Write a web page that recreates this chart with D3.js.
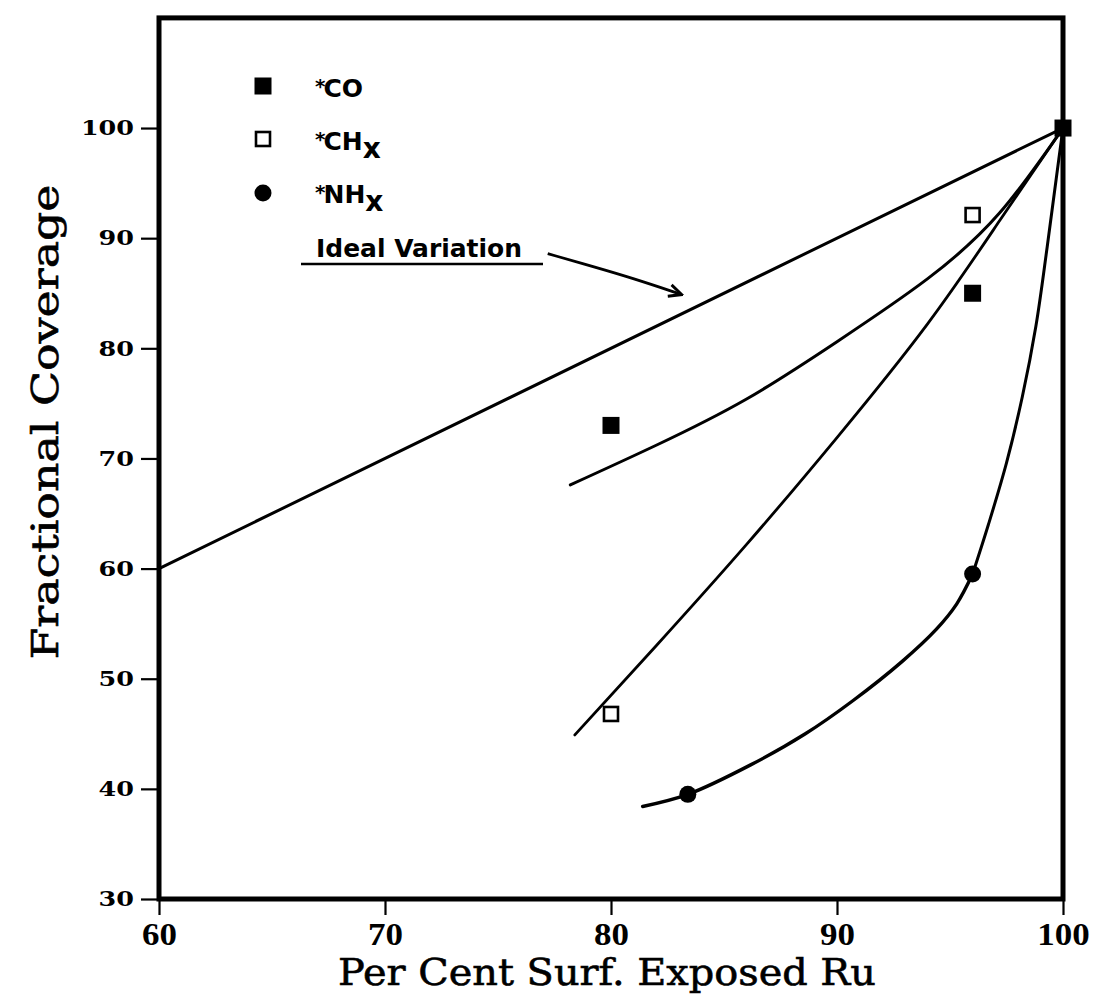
<!DOCTYPE html>
<html>
<head>
<meta charset="utf-8">
<script src="https://cdn.jsdelivr.net/npm/d3@7"></script>
<style>
  html, body { margin: 0; padding: 0; background: #fff; }
  svg { display: block; }
</style>
</head>
<body>
<svg id="chart" width="1098" height="1000"></svg>
<script>
// Axis ticks
const xTicks = [60, 70, 80, 90, 100];
const yTicks = [30, 40, 50, 60, 70, 80, 90, 100];

// Measured adsorbate coverages: [per cent surface Ru exposed, fractional coverage]
const coPoints = [[80, 73], [96, 85], [100, 100]];
const chPoints = [[80, 46.8], [96, 92.1]];
const nhPoints = [[83.4, 39.5], [96, 59.5]];

// Ideal variation (coverage proportional to exposed Ru)
const idealLine = [[60, 60], [100, 100]];

// Fitted trend curves
const fitUpper = [[78.2, 67.6], [82, 71.2], [86, 75.4], [90, 80.6], [94, 86.3], [97.2, 92.3], [100, 100]];
const fitMiddle = [[78.4, 44.9], [82, 53.0], [86, 62.2], [90, 71.9], [94, 82.2], [97.2, 91.6], [100, 100]];
const fitLowerA = [[81.4, 38.4], [83.4, 39.5], [86.2, 42.2], [88.6, 45.0], [90.7, 48.0], [92.9, 51.6],
                   [94.4, 54.5], [95.3, 56.8], [96.0, 59.5]];
const fitLowerB = [[96.0, 59.5], [96.7, 64.0], [97.5, 69.6], [98.2, 75.6], [98.8, 82.0], [99.3, 89.2],
                   [99.7, 95.4], [100, 100]];

// Pointer from the "Ideal Variation" label to the ideal line
const pointerPath = [[77.2, 88.6], [79.4, 87.3], [80.9, 86.4], [83.1, 84.9]];

const svg = d3.select("#chart");
svg.append("rect").attr("width", 1098).attr("height", 1000).attr("fill", "#fff");

const x = d3.scaleLinear().domain([60, 100]).range([159, 1063]);
const y = d3.scaleLinear().domain([30, 110]).range([899, 17.9]);

const line = d3.line().x(d => x(d[0])).y(d => y(d[1]));
const smooth = d3.line().x(d => x(d[0])).y(d => y(d[1])).curve(d3.curveCatmullRom.alpha(0.5));
const natural = d3.line().x(d => x(d[0])).y(d => y(d[1])).curve(d3.curveNatural);

// Y axis
const yAxis = svg.append("g")
  .attr("transform", `translate(${x(60)},0)`)
  .call(d3.axisLeft(y).tickValues(yTicks).tickSize(18).tickPadding(7));
yAxis.select(".domain").remove();
yAxis.selectAll(".tick line").attr("stroke", "#000").attr("stroke-width", 2.2);
yAxis.selectAll(".tick text")
  .attr("fill", "#000")
  .style("font-family", "'DejaVu Serif', serif")
  .style("font-weight", "bold")
  .style("font-size", "21px")
  .attr("textLength", d => String(d).length * 17.7)
  .attr("lengthAdjust", "spacingAndGlyphs");

// X axis
const xAxis = svg.append("g")
  .attr("transform", `translate(0,${y(30)})`)
  .call(d3.axisBottom(x).tickValues(xTicks).tickSize(16).tickPadding(8));
xAxis.select(".domain").remove();
xAxis.selectAll(".tick line").attr("stroke", "#000").attr("stroke-width", 2.2);
xAxis.selectAll(".tick text")
  .attr("fill", "#000")
  .style("font-family", "'Liberation Serif', serif")
  .style("font-weight", "bold")
  .style("font-size", "31px")
  .attr("textLength", d => String(d).length * 17.5)
  .attr("lengthAdjust", "spacingAndGlyphs");

// Plot frame
svg.append("rect")
  .attr("x", x(60)).attr("y", y(110))
  .attr("width", x(100) - x(60)).attr("height", y(30) - y(110))
  .attr("fill", "none").attr("stroke", "#000").attr("stroke-width", 5);

// Axis titles
svg.append("text")
  .attr("x", 607).attr("y", 985)
  .attr("text-anchor", "middle")
  .attr("textLength", 538).attr("lengthAdjust", "spacingAndGlyphs")
  .style("font-family", "'DejaVu Serif', serif")
  .style("font-size", "38px")
  .style("stroke", "#000").style("stroke-width", 0.6)
  .text("Per Cent Surf. Exposed Ru");

svg.append("text")
  .attr("transform", "translate(58,422) rotate(-90)")
  .attr("text-anchor", "middle")
  .attr("textLength", 475).attr("lengthAdjust", "spacingAndGlyphs")
  .style("font-family", "'DejaVu Serif', serif")
  .style("font-size", "38px")
  .style("stroke", "#000").style("stroke-width", 0.6)
  .text("Fractional Coverage");

// Lines
const lines = svg.append("g").attr("fill", "none").attr("stroke", "#000")
  .attr("stroke-linecap", "round").attr("stroke-linejoin", "round");
lines.append("path").attr("d", line(idealLine)).attr("stroke-width", 3);
lines.append("path").attr("d", natural(fitUpper)).attr("stroke-width", 3);
lines.append("path").attr("d", natural(fitMiddle)).attr("stroke-width", 2.8);
lines.append("path").attr("d", smooth(fitLowerA)).attr("stroke-width", 3.4);
lines.append("path").attr("d", smooth(fitLowerB)).attr("stroke-width", 3);

// Markers
const size = 17;
svg.append("g").selectAll("rect").data(coPoints).join("rect")
  .attr("x", d => x(d[0]) - size / 2).attr("y", d => y(d[1]) - size / 2)
  .attr("width", size).attr("height", size).attr("fill", "#000");
svg.append("g").selectAll("rect").data(chPoints).join("rect")
  .attr("x", d => x(d[0]) - 7).attr("y", d => y(d[1]) - 7)
  .attr("width", 14).attr("height", 14)
  .attr("fill", "#fff").attr("stroke", "#000").attr("stroke-width", 2.6);
svg.append("g").selectAll("circle").data(nhPoints).join("circle")
  .attr("cx", d => x(d[0])).attr("cy", d => y(d[1])).attr("r", 8.5).attr("fill", "#000");

// Legend
const legendFont = "'DejaVu Sans', sans-serif";
const lg = svg.append("g");
lg.append("rect").attr("x", 263 - 8.5).attr("y", 86 - 8.5).attr("width", 17).attr("height", 17).attr("fill", "#000");
lg.append("rect").attr("x", 263 - 7).attr("y", 139 - 7).attr("width", 14).attr("height", 14)
  .attr("fill", "#fff").attr("stroke", "#000").attr("stroke-width", 2.6);
lg.append("circle").attr("cx", 263).attr("cy", 193).attr("r", 8.5).attr("fill", "#000");

function legendLabel(yBase, main, sub) {
  const t = lg.append("text").attr("x", 315).attr("y", yBase)
    .style("font-family", legendFont).style("font-weight", "bold").style("font-size", "25px");
  t.append("tspan").attr("dy", -4).style("font-size", "20px").text("*");
  t.append("tspan").attr("dy", 4).attr("dx", -2).text(main);
  if (sub) t.append("tspan").attr("dy", 8).style("font-size", "28px").text(sub);
}
legendLabel(97, "CO");
legendLabel(150, "CH", "x");
legendLabel(203, "NH", "x");

lg.append("text").attr("x", 316).attr("y", 257)
  .attr("textLength", 206).attr("lengthAdjust", "spacingAndGlyphs")
  .style("font-family", legendFont).style("font-weight", "bold").style("font-size", "25px")
  .text("Ideal Variation");
lg.append("line").attr("x1", 301).attr("x2", 543).attr("y1", 264).attr("y2", 264)
  .attr("stroke", "#000").attr("stroke-width", 2.6);

// Pointer arrow
svg.append("defs").append("marker")
  .attr("id", "arrowhead").attr("viewBox", "0 0 12 12")
  .attr("refX", 10).attr("refY", 6)
  .attr("markerUnits", "userSpaceOnUse")
  .attr("markerWidth", 16).attr("markerHeight", 16)
  .attr("orient", "auto")
  .append("path").attr("d", "M1,1.5 L10.5,6 L1,10.5").attr("fill", "none")
  .attr("stroke", "#000").attr("stroke-width", 2.2).attr("stroke-linejoin", "miter");
svg.append("path")
  .attr("d", d3.line().x(d => x(d[0])).y(d => y(d[1])).curve(d3.curveBasis)(pointerPath))
  .attr("fill", "none").attr("stroke", "#000").attr("stroke-width", 2.8)
  .attr("marker-end", "url(#arrowhead)");
</script>
</body>
</html>
